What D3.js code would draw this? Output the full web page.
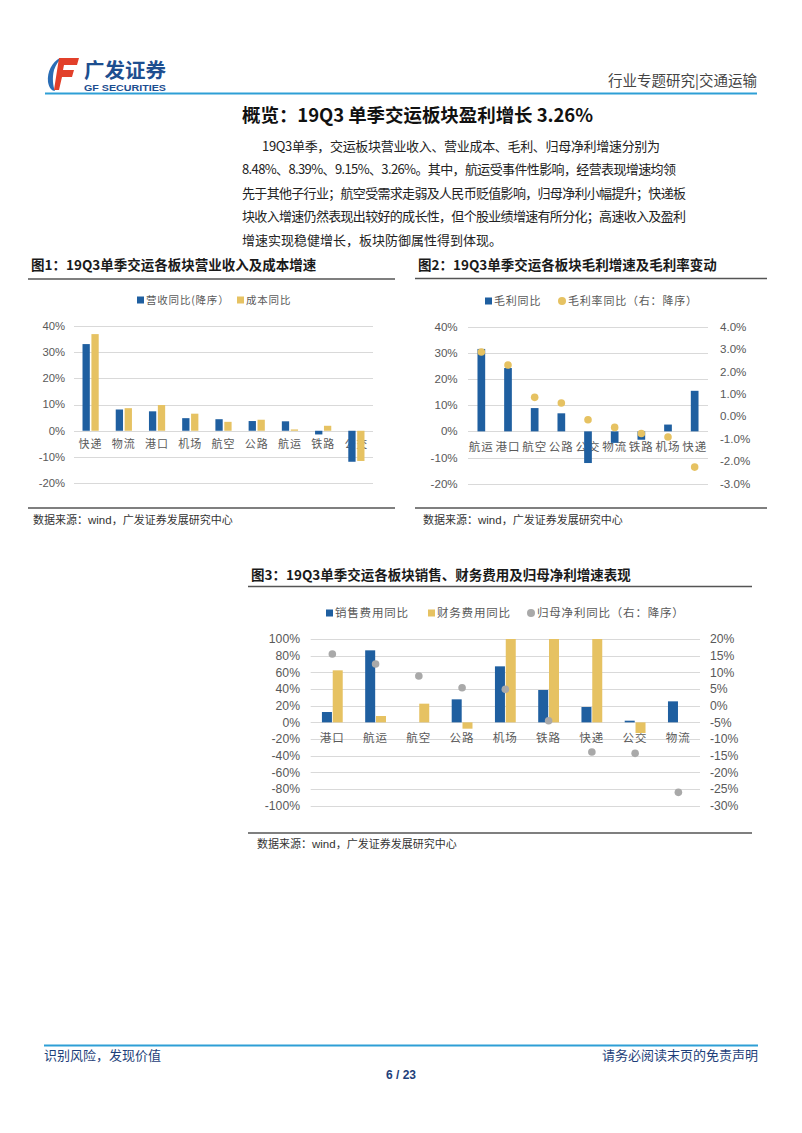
<!DOCTYPE html>
<html>
<head>
<meta charset="utf-8">
<script src="https://cdn.jsdelivr.net/npm/d3@7"></script>
<style>
  html, body { margin: 0; padding: 0; background: #fff; }
  svg { display: block; }
  text { font-family: "Liberation Sans", "Noto Sans CJK SC", sans-serif; }
  .cjk { font-family: "Noto Sans CJK SC", sans-serif; }
</style>
</head>
<body>
<svg id="page" width="802" height="1133"></svg>
<script>
// ---------------- DATA ----------------
const c1Cats = ["快递", "物流", "港口", "机场", "航空", "公路", "航运", "铁路", "公交"];
const c1Revenue = [33.0, 8.1, 7.4, 4.8, 4.4, 3.7, 3.6, -1.4, -11.8];
const c1Cost = [36.8, 8.6, 9.8, 6.5, 3.4, 4.2, 0.5, 1.9, -11.5];
const c1Ticks = [-20, -10, 0, 10, 20, 30, 40];

const c2Cats = ["航运", "港口", "航空", "公路", "公交", "物流", "铁路", "机场", "快递"];
const c2Gross = [31.5, 24.2, 8.9, 6.9, -12.1, -4.4, -3.2, 2.6, 15.5];
const c2Margin = [2.87, 2.29, 0.85, 0.60, -0.15, -0.49, -0.76, -0.92, -2.26];
const c2LeftTicks = [-20, -10, 0, 10, 20, 30, 40];
const c2RightTicks = [-3, -2, -1, 0, 1, 2, 3, 4];

const c3Cats = ["港口", "航运", "航空", "公路", "机场", "铁路", "快递", "公交", "物流"];
const c3Sales = [12.4, 86.4, null, 27.6, 67.2, 38.8, 18.4, 2.0, 25.2];
const c3Finance = [62.4, 7.6, 22.4, -7.6, 150, 130, 200, -12.8, null]; // values above 100% are cut at the axis top
const c3Profit = [15.5, 12.5, 8.9, 5.4, 4.9, -4.5, -13.9, -14.3, -26.0];
const c3LeftTicks = [-100, -80, -60, -40, -20, 0, 20, 40, 60, 80, 100];
const c3RightTicks = [-30, -25, -20, -15, -10, -5, 0, 5, 10, 15, 20];

const paraLines = [
  "19Q3单季，交运板块营业收入、营业成本、毛利、归母净利增速分别为",
  "8.48%、8.39%、9.15%、3.26%。其中，航运受事件性影响，经营表现增速均领",
  "先于其他子行业；航空受需求走弱及人民币贬值影响，归母净利小幅提升；快递板",
  "块收入增速仍然表现出较好的成长性，但个股业绩增速有所分化；高速收入及盈利",
  "增速实现稳健增长，板块防御属性得到体现。"
];

// ---------------- STYLE ----------------
const BLUE = "#1f5fa0";
const YELLOW = "#e6c262";
const GREY = "#a9a9a9";
const TICK = "#595959";
const GRID = "#d9d9d9";
const NAVY = "#1e3f7a";
const LINEBLUE = "#2e9fd6";

const svg = d3.select("#page");
svg.append("rect").attr("width", 802).attr("height", 1133).attr("fill", "#fff");

// ---------------- HEADER ----------------
const logo = svg.append("g");
logo.append("path")
  .attr("d", "M60,58 C52,62 47,72 48,82 C49,88 52,91 55,91 C53,86 52,78 54,70 C56,64 59,60 63,58 Z")
  .attr("fill", "#2a6db5");
logo.append("path")
  .attr("d", "M59,58 L79,58 L77,65 L64,65 L63,70 L74,70 L72,77 L62,77 L59,90 L54,90 Z")
  .attr("fill", "#e2402a");
logo.append("text").attr("class", "cjk").attr("x", 84).attr("y", 78)
  .attr("font-size", 20).attr("font-weight", 700).attr("fill", "#1d4e8f")
  .attr("textLength", 82).attr("lengthAdjust", "spacingAndGlyphs").text("广发证券");
logo.append("text").attr("x", 84).attr("y", 91)
  .attr("font-size", 9.5).attr("font-weight", 700).attr("fill", "#1d4e8f")
  .attr("textLength", 82).attr("lengthAdjust", "spacingAndGlyphs").text("GF SECURITIES");

svg.append("text").attr("class", "cjk").attr("x", 757).attr("y", 86)
  .attr("text-anchor", "end").attr("font-size", 14.5).attr("fill", "#444")
  .text("行业专题研究|交通运输");
svg.append("line").attr("x1", 45).attr("x2", 757).attr("y1", 93.5).attr("y2", 93.5)
  .attr("stroke", LINEBLUE).attr("stroke-width", 2);

// ---------------- TITLE & PARAGRAPH ----------------
svg.append("text").attr("class", "cjk").attr("x", 242).attr("y", 122)
  .attr("font-size", 18.5).attr("font-weight", 700).attr("fill", "#111")
  .attr("textLength", 351).attr("lengthAdjust", "spacing")
  .text("概览：19Q3 单季交运板块盈利增长 3.26%");

const paraPos = [[262, 660], [242, 676], [242, 686], [242, 686], [242, null]];
paraLines.forEach((t, i) => {
  const el = svg.append("text").attr("class", "cjk")
    .attr("x", paraPos[i][0]).attr("y", 151 + i * 23.4)
    .attr("font-size", 13).attr("fill", "#222").text(t);
  if (paraPos[i][1]) el.attr("textLength", paraPos[i][1] - paraPos[i][0]).attr("lengthAdjust", "spacing");
});

// ---------------- HELPERS ----------------
function chartFrame(x1, x2, titleY, lineY, title, srcLineY, srcX, srcY) {
  svg.append("text").attr("class", "cjk").attr("x", x1 + 3).attr("y", titleY)
    .attr("font-size", 13.5).attr("font-weight", 700).attr("fill", "#1a1a1a").text(title);
  svg.append("line").attr("x1", x1).attr("x2", x2).attr("y1", lineY).attr("y2", lineY)
    .attr("stroke", "#555").attr("stroke-width", 1.5);
  svg.append("line").attr("x1", x1).attr("x2", x2).attr("y1", srcLineY).attr("y2", srcLineY)
    .attr("stroke", "#555").attr("stroke-width", 1.5);
  svg.append("text").attr("class", "cjk").attr("x", srcX).attr("y", srcY)
    .attr("font-size", 11).attr("fill", "#333")
    .append("tspan").text("数据来源：")
    .select(function () { return this.parentNode; })
    .append("tspan").attr("font-family", "Liberation Sans").attr("font-size", 11.5).text("wind")
    .select(function () { return this.parentNode; })
    .append("tspan").text("，广发证券发展研究中心");
}

function grid(g, y, ticks, xr) {
  g.append("g").selectAll("line").data(ticks).join("line")
    .attr("x1", xr[0]).attr("x2", xr[1])
    .attr("y1", d => Math.round(y(d)) + 0.5).attr("y2", d => Math.round(y(d)) + 0.5)
    .attr("stroke", GRID).attr("stroke-width", 1);
}

function yLabels(g, y, ticks, x, anchor, size, fmt) {
  g.append("g").selectAll("text").data(ticks).join("text")
    .attr("x", x).attr("y", d => y(d)).attr("dy", "0.35em")
    .attr("text-anchor", anchor).attr("font-size", size).attr("fill", TICK)
    .text(fmt);
}

function xLabels(g, x, cats, yPos, size) {
  g.append("g").selectAll("text").data(cats).join("text")
    .attr("class", "cjk")
    .attr("x", d => x(d) + x.bandwidth() / 2).attr("y", yPos)
    .attr("text-anchor", "middle").attr("font-size", size).attr("fill", TICK)
    .attr("letter-spacing", 1).text(d => d);
}

function legendSquare(g, x, y, color, label, size) {
  g.append("rect").attr("x", x).attr("y", y - 3.5).attr("width", 7).attr("height", 7).attr("fill", color);
  g.append("text").attr("class", "cjk").attr("x", x + 9).attr("y", y).attr("dy", "0.35em")
    .attr("font-size", size).attr("fill", TICK).attr("letter-spacing", 0.8).text(label);
}
function legendDot(g, cx, y, color, label, size) {
  g.append("circle").attr("cx", cx).attr("cy", y).attr("r", 4).attr("fill", color);
  g.append("text").attr("class", "cjk").attr("x", cx + 6).attr("y", y).attr("dy", "0.35em")
    .attr("font-size", size).attr("fill", TICK).attr("letter-spacing", 0.8).text(label);
}

const pct = d => d + "%";
const pct1 = d => d.toFixed(1) + "%";

// ---------------- CHART 1 ----------------
chartFrame(28, 395, 270, 279, "图1：19Q3单季交运各板块营业收入及成本增速", 508, 33, 524);
{
  const g = svg.append("g");
  const x = d3.scaleBand().domain(c1Cats).range([74, 373]);
  const y = d3.scaleLinear().domain([-20, 40]).range([483.3, 325.7]);
  grid(g, y, c1Ticks, [74, 373]);
  yLabels(g, y, c1Ticks, 65, "end", 11.3, pct);
  xLabels(g, x, c1Cats, 448, 11);
  const bw = 7.3, gap = 1.6;
  const rows = c1Cats.map((c, i) => ({ c, a: c1Revenue[i], b: c1Cost[i] }));
  g.append("g").selectAll("rect").data(rows).join("rect")
    .attr("x", d => x(d.c) + x.bandwidth() / 2 - bw - gap / 2)
    .attr("y", d => y(Math.max(0, d.a))).attr("width", bw)
    .attr("height", d => Math.abs(y(d.a) - y(0))).attr("fill", BLUE);
  g.append("g").selectAll("rect").data(rows).join("rect")
    .attr("x", d => x(d.c) + x.bandwidth() / 2 + gap / 2)
    .attr("y", d => y(Math.max(0, d.b))).attr("width", bw)
    .attr("height", d => Math.abs(y(d.b) - y(0))).attr("fill", YELLOW);
  legendSquare(g, 137, 300, BLUE, "营收同比(降序）", 10.5);
  legendSquare(g, 237, 300, YELLOW, "成本同比", 10.5);
}

// ---------------- CHART 2 ----------------
chartFrame(415, 767, 270, 278.5, "图2：19Q3单季交运各板块毛利增速及毛利率变动", 508, 423, 524);
{
  const g = svg.append("g");
  const x = d3.scaleBand().domain(c2Cats).range([468, 708]);
  const yL = d3.scaleLinear().domain([-20, 40]).range([483.7, 326.7]);
  const yR = d3.scaleLinear().domain([-3, 4]).range([483.7, 326.7]);
  grid(g, yL, c2LeftTicks, [468, 708]);
  yLabels(g, yL, c2LeftTicks, 457.7, "end", 11.6, pct);
  yLabels(g, yR, c2RightTicks, 720, "start", 11.6, pct1);
  xLabels(g, x, c2Cats, 451, 11.5);
  const bw = 7.7;
  const rows = c2Cats.map((c, i) => ({ c, a: c2Gross[i], m: c2Margin[i] }));
  g.append("g").selectAll("rect").data(rows).join("rect")
    .attr("x", d => x(d.c) + x.bandwidth() / 2 - bw / 2)
    .attr("y", d => yL(Math.max(0, d.a))).attr("width", bw)
    .attr("height", d => Math.abs(yL(d.a) - yL(0))).attr("fill", BLUE);
  g.append("g").selectAll("circle").data(rows).join("circle")
    .attr("cx", d => x(d.c) + x.bandwidth() / 2).attr("cy", d => yR(d.m))
    .attr("r", 3.8).attr("fill", YELLOW);
  legendSquare(g, 485, 301, BLUE, "毛利同比", 11);
  legendDot(g, 562, 301, YELLOW, "毛利率同比（右：降序）", 11);
}

// ---------------- CHART 3 ----------------
chartFrame(248, 752, 580, 586.5, "图3：19Q3单季交运各板块销售、财务费用及归母净利增速表现", 833, 257, 848);
{
  const g = svg.append("g");
  const x = d3.scaleBand().domain(c3Cats).range([310.7, 700]);
  const yL = d3.scaleLinear().domain([-100, 100]).range([805.7, 639]).clamp(true);
  const yR = d3.scaleLinear().domain([-30, 20]).range([805.7, 639]);
  grid(g, yL, c3LeftTicks, [310.7, 700]);
  yLabels(g, yL, c3LeftTicks, 300, "end", 12.2, pct);
  yLabels(g, yR, c3RightTicks, 710, "start", 12.2, pct);
  xLabels(g, x, c3Cats, 742, 11.5);
  const bw = 10, gap = 0.8;
  const rows = c3Cats.map((c, i) => ({ c, a: c3Sales[i], b: c3Finance[i], p: c3Profit[i] }));
  g.append("g").selectAll("rect").data(rows.filter(d => d.a !== null)).join("rect")
    .attr("x", d => x(d.c) + x.bandwidth() / 2 - bw - gap / 2)
    .attr("y", d => yL(Math.max(0, d.a))).attr("width", bw)
    .attr("height", d => Math.abs(yL(d.a) - yL(0))).attr("fill", BLUE);
  g.append("g").selectAll("rect").data(rows.filter(d => d.b !== null)).join("rect")
    .attr("x", d => x(d.c) + x.bandwidth() / 2 + gap / 2)
    .attr("y", d => yL(Math.max(0, d.b))).attr("width", bw)
    .attr("height", d => Math.abs(yL(d.b) - yL(0))).attr("fill", YELLOW);
  g.append("g").selectAll("circle").data(rows).join("circle")
    .attr("cx", d => x(d.c) + x.bandwidth() / 2).attr("cy", d => yR(d.p))
    .attr("r", 3.8).attr("fill", GREY);
  legendSquare(g, 326, 613, BLUE, "销售费用同比", 11.5);
  legendSquare(g, 428, 613, YELLOW, "财务费用同比", 11.5);
  legendDot(g, 531, 613, GREY, "归母净利同比（右：降序）", 11.5);
}

// ---------------- FOOTER ----------------
svg.append("line").attr("x1", 44).attr("x2", 758).attr("y1", 1045.5).attr("y2", 1045.5)
  .attr("stroke", LINEBLUE).attr("stroke-width", 2);
svg.append("text").attr("class", "cjk").attr("x", 44).attr("y", 1060)
  .attr("font-size", 13).attr("fill", NAVY).text("识别风险，发现价值");
svg.append("text").attr("class", "cjk").attr("x", 758).attr("y", 1060)
  .attr("text-anchor", "end").attr("font-size", 13).attr("fill", NAVY).text("请务必阅读末页的免责声明");
svg.append("text").attr("x", 401).attr("y", 1079)
  .attr("text-anchor", "middle").attr("font-size", 12).attr("font-weight", 700).attr("fill", NAVY).text("6 / 23");
</script>
</body>
</html>
